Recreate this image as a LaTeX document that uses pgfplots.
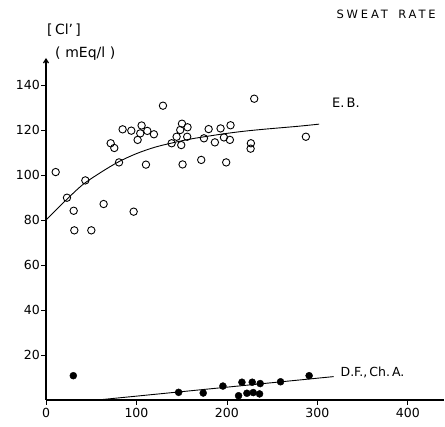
\documentclass[border=0pt]{standalone}
\usepackage{fontspec}
\setmainfont{DejaVu Sans}
\usepackage{pgfplots}
\pgfplotsset{compat=1.18}
\usetikzlibrary{arrows.meta}
\begin{document}
\begin{tikzpicture}[x=1pt,y=1pt]
\useasboundingbox (0,0) rectangle (445,427);
\begin{axis}[
  at={(46pt,27pt)}, anchor=south west,
  scale only axis, width=398pt, height=342pt,
  xmin=0, xmax=440, ymin=0, ymax=152,
  axis x line*=bottom, axis y line*=left,
  y axis line style={-{Straight Barb[length=4pt,width=5pt]}},
  axis line style={line width=1.2pt},
  xtick={0,100,200,300,400}, ytick={20,40,60,80,100,120,140},
  tick align=outside, major tick length=5pt,
  tick style={line width=0.8pt, black},
  /pgf/number format/assume math mode=true,
  tick label style={font=\fontsize{12.5}{12.5}\selectfont},
  yticklabel style={inner sep=1pt},
  xticklabel style={inner sep=3pt},
  clip=false,
]
% E.B. open circles
\addplot[only marks, mark=o, mark size=3.7pt, line width=0.9pt] coordinates {
(10.7,101.3) (23.2,89.9) (30.6,84.1) (43.5,97.6) (63.7,87.1) (96.9,83.7)
(71.5,114.1) (75.5,112) (80.7,105.6) (84.7,120.3) (94.3,119.7) (101.3,115.6)
(105.7,122) (104.2,118.5) (112,119.6) (110.5,104.6) (119.3,118.1) (129.3,130.8)
(138.9,114.1) (144.4,117) (148.4,120) (150.3,122.8) (149.5,113.3) (156.5,121.2)
(156.1,117) (151,104.7) (171.6,106.7) (174.6,116.3) (179.8,120.4) (186.7,114.5)
(193,120.7) (196.7,116.7) (203.3,115.6) (204,122.1) (199.2,105.6) (226.5,114.1)
(226.2,111.7) (230.2,133.9) (287.3,117) (31.3,75.4) (50.1,75.4)
};
% E.B. fitted curve
\addplot[smooth, line width=0.9pt] coordinates {
(0,80) (20,88) (40,95.5) (60,101) (80,105.8) (100,109.5) (120,112.3)
(140,114.3) (160,116) (180,117.3) (200,118.5) (220,119.5) (240,120.3)
(260,121) (280,121.7) (302,122.6)
};
% D.F., Ch.A. filled circles
\addplot[only marks, mark=*, mark size=3.5pt] coordinates {
(30.2,10.8) (146.6,3.4) (173.8,3.1) (195.6,6.2) (216.6,7.9) (228,7.9)
(236.8,7.3) (212.9,1.9) (222.1,3) (229.1,3.3) (236.1,2.7) (259.3,8.1) (290.9,10.8)
};
% D.F. fitted line
\addplot[line width=0.9pt] coordinates {(57,0) (318,10.4)};
\node at (axis cs:331.5,132) {\fontsize{13}{13}\selectfont E.\,B.};
\node at (axis cs:361,12.3) {\fontsize{12.5}{12.5}\selectfont D.F.,\,Ch.\,A.};
\node at (axis cs:376,171.6) {\fontsize{11.5}{11.5}\selectfont\addfontfeature{LetterSpace=25}SWEAT\hspace{0.9em}RATE};
\node at (axis cs:20,164.5) {\fontsize{14}{14}\selectfont [\,Cl'\,]};
\node at (axis cs:43.5,154) {\fontsize{14}{14}\selectfont (\,\,mEq/l\,\,)};
\end{axis}
\end{tikzpicture}
\end{document}
